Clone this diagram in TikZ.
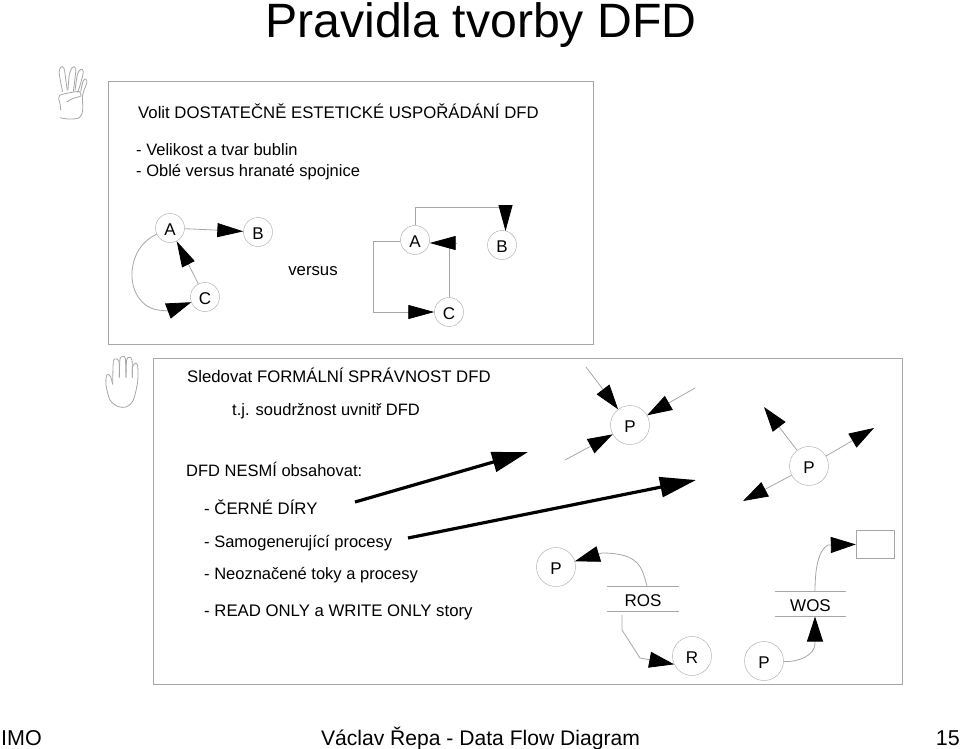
\documentclass[tikz,border=0pt]{standalone}
\usepackage{fontspec}
\setmainfont{Liberation Sans}
\usetikzlibrary{arrows.meta}
\definecolor{linegray}{gray}{0.65}
\tikzset{
  bubble/.style={draw=linegray, circle, minimum size=29pt, inner sep=0pt, text height=15pt, text depth=0pt, font=\fontsize{17}{18}\selectfont},
  bigbubble/.style={bubble, minimum size=39pt},
  store/.style={minimum width=71pt, minimum height=25pt, inner sep=0pt, text height=16pt, text depth=0pt, font=\fontsize{17}{18}\selectfont},
  storeline/.style={draw=linegray},
  frame/.style={draw=linegray, line width=0.9pt},
  hand/.style={draw=linegray, line width=0.8pt},
  plainflow/.style={draw=linegray, line width=0.8pt},
  flow/.style={plainflow, -{Triangle[black, length=26pt, width=14pt]}},
  smallflow/.style={plainflow, -{Triangle[black, length=25pt, width=16pt]}},
  bigflow/.style={draw=black, line width=3.2pt, -{Triangle[black, length=36pt, width=20pt]}},
  txt/.style={anchor=base west, inner sep=0pt, font=\fontsize{16.75}{18}\selectfont},
  lowtxt/.style={txt, font=\fontsize{16.5}{18}\selectfont},
}
\begin{document}
\begin{tikzpicture}[x=1pt, y=-1pt]
  \useasboundingbox (0,0) rectangle (960,748);
  % title and footer
  \node [anchor=base, inner sep=0pt, font=\fontsize{48.2}{50}\selectfont] (title) at (481,37) {Pravidla tvorby DFD};
  \node [txt, font=\fontsize{21.5}{24}\selectfont] (imo) at (1,745) {IMO};
  \node [anchor=base, inner sep=0pt, font=\fontsize{21.1}{24}\selectfont] (foot) at (480.5,745) {Václav Řepa - Data Flow Diagram};
  \node [anchor=base east, inner sep=0pt, font=\fontsize{21.5}{24}\selectfont] (page) at (960,745) {15};
  % frames
  \draw [frame] (108,81) rectangle (593,344);
  \draw [frame] (153,358) rectangle (902,684);
  % hands
  \begin{scope}[shift={(40,50)}, x=0.3333pt, y=-0.3333pt]
    \draw [hand] plot [smooth, tension=0.6] coordinates {(68,125) (58,72) (62,52) (72,55) (78,95) (82,122)};
    \draw [hand] plot [smooth, tension=0.6] coordinates {(84,120) (88,75) (97,52) (107,55) (105,85) (100,125)};
    \draw [hand] plot [smooth, tension=0.6] coordinates {(105,122) (112,75) (122,58) (130,65) (122,100) (113,128)};
    \draw [hand] plot [smooth, tension=0.6] coordinates {(122,125) (130,92) (138,88) (140,100) (128,135) (128,180) (118,203) (85,207) (60,203)};
    \draw [hand] plot [smooth, tension=0.6] coordinates {(60,135) (90,128) (118,125) (122,138) (100,145) (80,156)};
    \draw [hand] plot [smooth, tension=0.6] coordinates {(60,135) (56,146) (60,160) (62,180)};
  \end{scope}
  \begin{scope}[shift={(90,345)}, x=0.3333pt, y=-0.3333pt]
    \draw [hand] plot [smooth, tension=0.5] coordinates {(68,118) (62,95) (54,88) (49,95) (48,120) (60,165) (85,185) (110,185) (130,165) (143,110) (143,62) (136,55) (128,65) (127,98)};
    \draw [hand] plot [smooth, tension=0.5] coordinates {(127,98) (126,45) (118,37) (110,45) (108,98)};
    \draw [hand] plot [smooth, tension=0.5] coordinates {(108,98) (106,40) (98,35) (90,42) (88,98)};
    \draw [hand] plot [smooth, tension=0.5] coordinates {(88,98) (87,50) (78,42) (70,50) (68,118)};
  \end{scope}
  % upper text
  \node [txt] (volit) at (138,118) {Volit DOSTATEČNĚ ESTETICKÉ USPOŘÁDÁNÍ DFD};
  \node [lowtxt] (velikost) at (136,155) {- Velikost a tvar bublin};
  \node [lowtxt] (oble) at (136,176) {- Oblé versus hranaté spojnice};
  \node [anchor=base, inner sep=0pt, font=\fontsize{16.75}{18}\selectfont] (versus) at (313,275) {versus};
  % rounded connectors
  \node [bubble] (a1) at (170,228) {A};
  \node [bubble] (b1) at (258,232) {B};
  \node [bubble] (c1) at (205,297) {C};
  \coordinate (bend1) at (158,310);
  \coordinate (head1) at (168,311);
  \draw [flow] (a1) -- (b1);
  \draw [flow] (c1) -- (a1);
  \draw [plainflow] (a1.205) .. controls (122,250) and (125,305) .. (bend1) -- (head1);
  \draw [smallflow] (head1) -- (c1);
  % square connectors
  \node [bubble] (a2) at (415,240) {A};
  \node [bubble] (b2) at (502,245) {B};
  \node [bubble] (c2) at (449,312) {C};
  \coordinate (top2) at (415,207);
  \coordinate (tip2) at (505.5,231);
  \coordinate (left2) at (373,241);
  \coordinate (low2) at (373,312);
  \coordinate (up2) at (449,243);
  \draw [flow] (a2.north) -- (top2) -| (tip2);
  \draw [flow] (a2.west |- left2) -- (left2) -- (low2) -- (c2);
  \draw [plainflow] (c2.north) -- (up2);
  \draw [flow] (up2) ++ (7,0) coordinate (head2) -- (a2.east |- up2);
  % lower text
  \node [txt] (sledovat) at (187,382) {Sledovat FORMÁLNÍ SPRÁVNOST DFD};
  \node [lowtxt] (tj) at (232,415) {t.j. soudržnost uvnitř DFD};
  \node [lowtxt] (nesmi) at (186,476) {DFD NESMÍ obsahovat:};
  \node [txt] (cerne) at (204,514) {- ČERNÉ DÍRY};
  \node [lowtxt] (samo) at (204,547) {- Samogenerující procesy};
  \node [lowtxt] (neoz) at (204,579) {- Neoznačené toky a procesy};
  \node [txt] (read) at (204,616) {- READ ONLY a WRITE ONLY story};
  % long arrows
  \coordinate (from1) at (355,502);
  \coordinate (to1) at (528,452);
  \coordinate (from2) at (408,538);
  \coordinate (to2) at (696,480);
  \draw [bigflow] (from1) -- (to1);
  \draw [bigflow] (from2) -- (to2);
  % black hole
  \node [bigbubble] (p1) at (630,425) {P};
  \coordinate (in1) at (586,367);
  \coordinate (in2) at (695,388);
  \coordinate (in3) at (565,460);
  \draw [smallflow] (in1) -- (p1);
  \draw [smallflow] (in2) -- (p1);
  \draw [smallflow] (in3) -- (p1);
  % miracle
  \node [bigbubble] (p2) at (809,466) {P};
  \coordinate (out1) at (764,407);
  \coordinate (out2) at (874,428);
  \coordinate (out3) at (743,501);
  \draw [smallflow] (p2) -- (out1);
  \draw [smallflow] (p2) -- (out2);
  \draw [smallflow] (p2) -- (out3);
  % stores
  \node [bigbubble] (p3) at (556,567) {P};
  \node [bigbubble] (r) at (692,656) {R};
  \node [bigbubble] (p4) at (764,661) {P};
  \node [store] (ros) at (643,598.5) {ROS};
  \node [store] (wos) at (810.5,603.5) {WOS};
  \node [draw=linegray, minimum width=38pt, minimum height=28pt, inner sep=0pt] (box) at (875,544) {};
  \draw [storeline] (ros.north west) -- (ros.north east);
  \draw [storeline] (ros.south west) -- (ros.south east);
  \draw [storeline] (wos.north west) -- (wos.north east);
  \draw [storeline] (wos.south west) -- (wos.south east);
  \coordinate (ros1) at (647,586);
  \coordinate (ros2) at (602,553);
  \coordinate (ros3) at (622,615);
  \coordinate (ros4) at (640,658);
  \coordinate (ros5) at (651,660);
  \coordinate (wos1) at (815,591);
  \coordinate (wos2) at (828,545);
  \coordinate (wos3) at (815,643);
  \coordinate (wos4) at (815,616.5);
  \draw [smallflow] (ros1) .. controls (642,568) and (640,553) .. (ros2) -- (p3);
  \draw [plainflow] (ros3) -- (622,630) -- (ros4) -- (ros5);
  \draw [smallflow] (ros5) -- (r.205);
  \draw [smallflow] (p4) .. controls (800,662) and (815,655) .. (wos3) -- (wos4);
  \draw [smallflow] (wos1) .. controls (815,570) and (818,550) .. (wos2) -- (box);
\end{tikzpicture}
\end{document}
